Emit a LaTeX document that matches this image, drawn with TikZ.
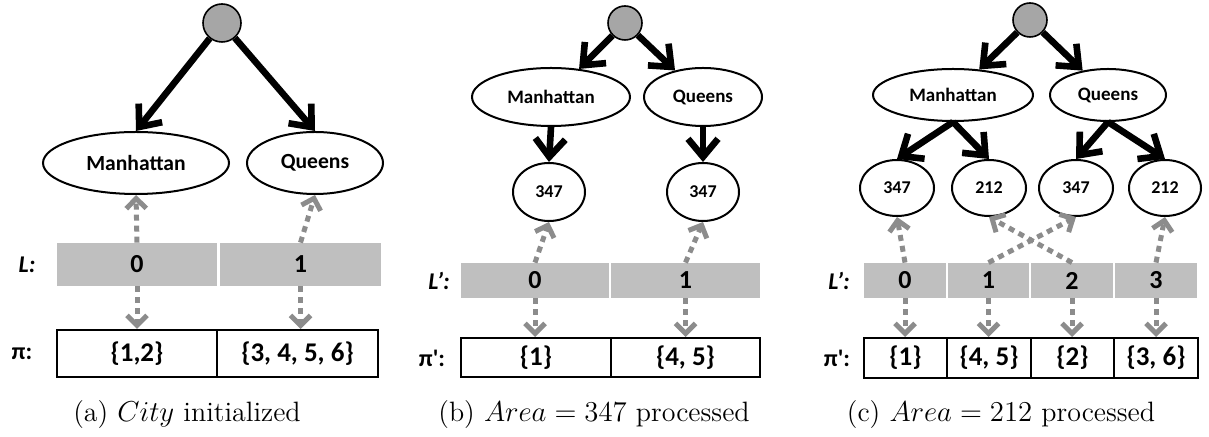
\documentclass[tikz,border=0pt]{standalone}
\usepackage{fontspec}
\usetikzlibrary{shapes.geometric,arrows.meta,positioning}
\newfontfamily\carl{Carlito}

\definecolor{rootgray}{RGB}{166,166,166}
\definecolor{cellgray}{RGB}{191,191,191}
\definecolor{ptrgray}{RGB}{140,140,140}

\tikzset{
  root/.style={circle, draw, line width=0.8pt, fill=rootgray, inner sep=0pt},
  city/.style={ellipse, draw, line width=1pt, inner sep=0pt, font=\carl\bfseries\fontsize{9.5}{11}\selectfont},
  area/.style={ellipse, draw, line width=1pt, inner sep=0pt, font=\carl\bfseries\fontsize{9}{11}\selectfont},
  lcell/.style={rectangle, fill=cellgray, inner sep=0pt, font=\carl\bfseries\fontsize{13}{15}\selectfont},
  pcell/.style={rectangle, draw, line width=1pt, inner sep=0pt, font=\carl\bfseries\fontsize{13.5}{15}\selectfont},
  rowlbl/.style={inner sep=0pt, font=\carl\bfseries\fontsize{12}{14}\selectfont},
  capt/.style={inner sep=0pt, font=\fontsize{14}{16}\selectfont},
  treearr/.style={line width=3.3pt, -{Straight Barb[length=9pt,width=15pt]}},
  ptrarr/.style={draw=ptrgray, line width=2.5pt, dash pattern=on 3pt off 2.5pt, -{Straight Barb[length=5pt,width=10pt]}}
}

\begin{document}
\begin{tikzpicture}[x=0.5pt,y=-0.5pt]
  \useasboundingbox (0,0) rectangle (1209,437);

  % (a) City initialized
  \node [root, minimum size=19pt] (ra) at (222,23) {};
  \node [city, minimum width=93pt, minimum height=31pt, font=\carl\bfseries\fontsize{10.8}{12}\selectfont] (ma) at (136,163) {Manhattan};
  \node [city, minimum width=68pt, minimum height=31pt, font=\carl\bfseries\fontsize{10.8}{12}\selectfont] (qa) at (315,163) {Queens};
  \draw [treearr] (ra) -- (ma.north);
  \draw [treearr] (ra) -- (qa.north);

  \node [rowlbl] (La) at (27,265) {\itshape L:};
  \node [lcell, minimum width=80pt, minimum height=21.5pt] (la0) at (137,264.5) {0};
  \node [lcell, minimum width=80.5pt, minimum height=21.5pt] (la1) at (300.5,264.5) {1};

  \node [rowlbl] (Pa) at (22,354) {π:};
  \node [pcell, minimum width=80pt, minimum height=23.5pt] (pa0) at (137,353.5) {\{1,2\}};
  \node [pcell, minimum width=80.5pt, minimum height=23.5pt] (pa1) at (297.5,353.5) {\{3, 4, 5, 6\}};

  \draw [ptrarr] (la0.north) -- (ma.south);
  \draw [ptrarr] (la1.north) -- (qa.south);
  \draw [ptrarr] (la0.south) -- (pa0.north -| la0);
  \draw [ptrarr] (la1.south) -- (pa1.north -| la1);

  \node [capt] (capa) at (187,415) {(a) $City$ initialized};

  % (b) Area = 347 processed
  \node [root, minimum size=17pt] (rb) at (625,23) {};
  \node [city, minimum width=79pt, minimum height=29pt] (mb) at (551,97) {Manhattan};
  \node [city, minimum width=59pt, minimum height=29pt] (qb) at (703,97) {Queens};
  \draw [treearr] (rb) -- (mb);
  \draw [treearr] (rb) -- (qb);

  \node [area, minimum width=36pt, minimum height=29pt] (mb1) at (549,192) {347};
  \node [area, minimum width=36pt, minimum height=29pt] (qb1) at (703,192) {347};
  \draw [treearr] (mb.south) -- (mb1.north);
  \draw [treearr] (qb.south) -- (qb1.north);

  \node [rowlbl] (Lb) at (439,281) {\itshape L’:};
  \node [lcell, minimum width=74pt, minimum height=17.5pt] (lb0) at (535,280.5) {0};
  \node [lcell, minimum width=74.5pt, minimum height=17.5pt] (lb1) at (685.5,280.5) {1};

  \node [rowlbl] (Pb) at (432,358) {π':};
  \node [pcell, minimum width=75pt, minimum height=19.5pt] (pb0) at (536,357.5) {\{1\}};
  \node [pcell, minimum width=74.5pt, minimum height=19.5pt] (pb1) at (685.5,357.5) {\{4, 5\}};

  \draw [ptrarr] (lb0.north) -- (mb1.south);
  \draw [ptrarr] (lb1.north) -- (qb1.south);
  \draw [ptrarr] (lb0.south) -- (pb0.north -| lb0);
  \draw [ptrarr] (lb1.south) -- (pb1.north -| lb1);

  \node [capt] (capb) at (594,415) {(b) $Area = 347$ processed};

  % (c) Area = 212 processed
  \node [root, minimum size=17pt] (rc) at (1030,20) {};
  \node [city, minimum width=80pt, minimum height=26pt] (mc) at (953,95) {Manhattan};
  \node [city, minimum width=58pt, minimum height=26pt] (qc) at (1108,95) {Queens};
  \draw [treearr] (rc) -- (mc);
  \draw [treearr] (rc) -- (qc);

  \node [area, minimum width=37pt, minimum height=28pt] (mc1) at (897,188) {347};
  \node [area, minimum width=37pt, minimum height=28pt] (mc2) at (989,188) {212};
  \node [area, minimum width=37pt, minimum height=28pt] (qc1) at (1076,188) {347};
  \node [area, minimum width=36pt, minimum height=28pt] (qc2) at (1165,188) {212};
  \draw [treearr] (mc.south) -- (mc1.north);
  \draw [treearr] (mc.south) -- (mc2.north);
  \draw [treearr] (qc.south) -- (qc1.north);
  \draw [treearr] (qc.south) -- (qc2.north);

  \node [rowlbl] (Lc) at (839,281) {\itshape L’:};
  \node [lcell, minimum width=41pt, minimum height=17.5pt] (lc0) at (905,280.5) {0};
  \node [lcell, minimum width=40.5pt, minimum height=17.5pt] (lc1) at (988.5,280.5) {1};
  \node [lcell, minimum width=41pt, minimum height=17.5pt] (lc2) at (1072,280.5) {2};
  \node [lcell, minimum width=41pt, minimum height=17.5pt] (lc3) at (1156,280.5) {3};

  \node [rowlbl] (Pc) at (837,358) {π':};
  \node [pcell, minimum width=41.5pt, minimum height=20pt] (pc0) at (905.5,358) {\{1\}};
  \node [pcell, minimum width=42pt, minimum height=20pt] (pc1) at (989,358) {\{4, 5\}};
  \node [pcell, minimum width=41.5pt, minimum height=20pt] (pc2) at (1072.5,358) {\{2\}};
  \node [pcell, minimum width=42pt, minimum height=20pt] (pc3) at (1156,358) {\{3, 6\}};

  \draw [ptrarr] (lc0.north) -- (mc1.south);
  \draw [ptrarr] (lc1.north) -- (qc1.south);
  \draw [ptrarr] (lc2.north) -- (mc2.south);
  \draw [ptrarr] (lc3.north) -- (qc2.south);
  \draw [ptrarr] (lc0.south) -- (pc0.north -| lc0);
  \draw [ptrarr] (lc1.south) -- (pc1.north -| lc1);
  \draw [ptrarr] (lc2.south) -- (pc2.north -| lc2);
  \draw [ptrarr] (lc3.south) -- (pc3.north -| lc3);

  \node [capt] (capc) at (1001,415) {(c) $Area = 212$ processed};
\end{tikzpicture}
\end{document}
